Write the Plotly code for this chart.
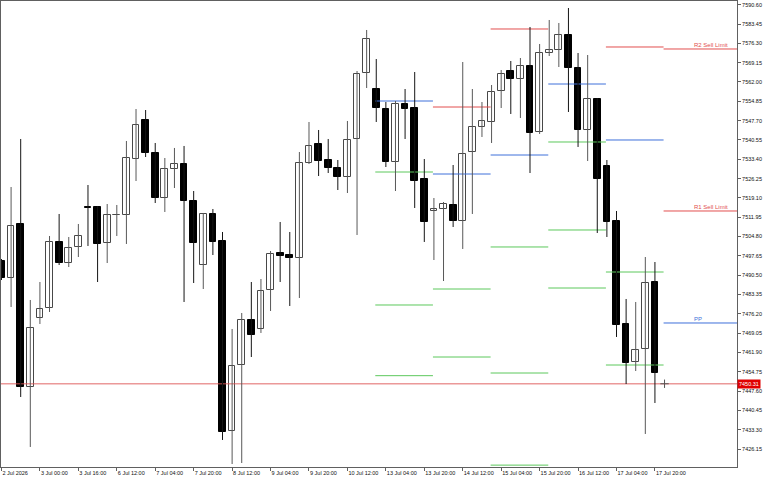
import plotly.graph_objects as go

# ---------------- data ----------------
candle_idx = list(range(69))
opens = [7495.74, 7489.45, 7509.44, 7449.11, 7474.65, 7478.35, 7502.78, 7495.00, 7500.93, 7515.73,
         7515.73, 7502.41, 7512.77, 7512.77, 7533.49, 7547.93, 7535.71, 7519.06, 7529.79, 7531.64,
         7517.95, 7494.26, 7513.14, 7503.15, 7432.83, 7457.25, 7473.91, 7470.58, 7485.01, 7498.70,
         7497.96, 7496.85, 7532.01, 7539.05, 7533.12, 7530.16, 7526.83, 7540.90, 7565.32, 7559.40,
         7552.00, 7532.38, 7553.85, 7552.37, 7526.09, 7514.25, 7514.99, 7516.47, 7510.55, 7536.08,
         7545.34, 7547.19, 7558.66, 7566.06, 7563.10, 7567.91, 7543.49, 7572.72, 7573.83, 7579.39,
         7567.17, 7544.23, 7555.70, 7530.90, 7510.55, 7472.43, 7458.36, 7463.18, 7487.97]
highs = [7496.48, 7523.13, 7540.90, 7481.31, 7487.97, 7505.00, 7513.14, 7504.63, 7509.44, 7523.87,
         7516.10, 7516.84, 7516.47, 7540.16, 7552.00, 7551.63, 7539.42, 7533.86, 7537.57, 7538.31,
         7521.65, 7513.51, 7514.99, 7506.48, 7470.58, 7476.50, 7487.97, 7489.08, 7499.44, 7510.18,
         7506.48, 7536.08, 7547.19, 7544.23, 7540.90, 7533.12, 7547.56, 7566.06, 7581.24, 7570.50,
         7554.59, 7554.96, 7559.40, 7565.69, 7533.49, 7519.06, 7517.58, 7531.27, 7569.39, 7559.40,
         7554.59, 7560.88, 7566.43, 7569.76, 7570.87, 7582.35, 7576.06, 7584.94, 7583.83, 7589.38,
         7572.72, 7571.98, 7556.07, 7533.12, 7514.25, 7481.68, 7480.57, 7497.22, 7495.37]
lows = [7488.71, 7478.72, 7445.41, 7426.91, 7472.43, 7476.87, 7494.26, 7493.52, 7497.22, 7501.30,
        7487.97, 7495.00, 7505.00, 7502.04, 7525.35, 7534.23, 7517.21, 7513.88, 7522.76, 7480.57,
        7487.60, 7485.38, 7497.96, 7429.50, 7420.61, 7420.98, 7460.21, 7469.10, 7477.24, 7487.97,
        7479.09, 7482.05, 7531.64, 7527.20, 7528.31, 7522.02, 7520.91, 7505.37, 7559.77, 7547.19,
        7530.53, 7521.65, 7540.90, 7515.36, 7502.78, 7496.11, 7488.34, 7508.33, 7500.19, 7513.14,
        7541.64, 7539.42, 7552.37, 7550.15, 7548.67, 7528.31, 7542.75, 7571.61, 7567.54, 7550.89,
        7537.94, 7532.75, 7506.11, 7504.63, 7467.62, 7450.22, 7455.03, 7431.72, 7443.19]
closes = [7489.45, 7508.70, 7449.11, 7470.95, 7477.98, 7502.78, 7495.00, 7500.56, 7505.00, 7515.36,
          7502.04, 7512.77, 7512.95, 7533.86, 7546.08, 7535.71, 7519.06, 7529.79, 7531.64, 7517.95,
          7502.41, 7513.14, 7502.78, 7432.46, 7456.88, 7473.91, 7468.36, 7484.64, 7498.33, 7497.59,
          7496.85, 7532.01, 7538.31, 7532.75, 7530.16, 7526.83, 7540.53, 7564.95, 7577.91, 7552.37,
          7532.38, 7553.85, 7552.00, 7525.35, 7510.18, 7514.99, 7516.84, 7510.55, 7535.34, 7545.34,
          7547.56, 7558.29, 7564.95, 7563.10, 7567.91, 7543.12, 7572.72, 7573.83, 7579.39, 7567.17,
          7544.23, 7555.70, 7526.09, 7510.18, 7472.06, 7457.99, 7462.80, 7487.60, 7454.29]

x_tick_idx = [0, 4, 8, 12, 16, 20, 24, 28, 32, 36, 40, 44, 48, 52, 56, 60, 64, 68]
x_tick_text = ["2 Jul 2026", "3 Jul 00:00", "3 Jul 16:00", "6 Jul 12:00", "7 Jul 04:00",
               "7 Jul 20:00", "8 Jul 12:00", "9 Jul 04:00", "9 Jul 20:00", "10 Jul 12:00",
               "13 Jul 04:00", "13 Jul 20:00", "14 Jul 12:00", "15 Jul 04:00", "15 Jul 20:00",
               "16 Jul 12:00", "17 Jul 04:00", "17 Jul 20:00"]
y_tick_vals = [7590.60, 7583.45, 7576.30, 7569.15, 7562.00, 7554.85, 7547.70, 7540.55,
               7533.40, 7526.25, 7519.10, 7511.95, 7504.80, 7497.65, 7490.50, 7483.35,
               7476.20, 7469.05, 7461.90, 7454.75, 7447.60, 7440.45, 7433.30, 7426.15]

current_price = 7450.31

# daily pivot segments (day boundaries in candle index units)
day_start = [38.9, 44.9, 50.9, 56.9, 62.9, 68.9]
day_end = [44.9, 50.9, 56.9, 62.9, 68.9, 76.54]

r_day = [1, 2, 4, 5, 5]
r_price = [7552.74, 7581.61, 7574.95, 7574.21, 7514.25]
pp_day = [0, 1, 2, 3, 4, 5]
pp_price = [7554.96, 7527.94, 7534.97, 7561.25, 7540.53, 7472.80]
s_day = [0, 0, 0, 1, 1, 2, 2, 2, 3, 3, 3, 4, 4]
s_price = [7528.68, 7479.46, 7453.30, 7485.38, 7460.21, 7500.93, 7454.29, 7420.2,
           7539.79, 7507.22, 7485.75, 7491.67, 7457.25]

level_labels = ["R2 Sell Limit", "R1 Sell Limit", "PP"]
level_label_prices = [7574.21, 7514.25, 7472.80]

# ---------------- figure ----------------
X_RANGE = [-0.05, 76.54]
Y_RANGE = [7419.50, 7591.97]
FONT = "Liberation Sans"
RED = "rgb(226,78,78)"
BLUE = "rgb(62,112,218)"
GREEN = "rgb(92,200,92)"

fig = go.Figure()

def seg_xy(days, prices):
    xs, ys = [], []
    for d, p in zip(days, prices):
        xs += [day_start[d], day_end[d], None]
        ys += [p, p, None]
    return xs, ys

# current price line
fig.add_trace(go.Scatter(x=X_RANGE, y=[current_price, current_price], mode="lines",
                         line=dict(color="rgba(222,85,85,0.6)", width=1.6),
                         hoverinfo="skip", showlegend=False))

# pivot segments
for days, prices, col in [(s_day, s_price, GREEN), (pp_day, pp_price, BLUE),
                          (r_day, r_price, RED)]:
    xs, ys = seg_xy(days, prices)
    fig.add_trace(go.Scatter(x=xs, y=ys, mode="lines", line=dict(color=col, width=1),
                             hoverinfo="skip", showlegend=False))

# wicks
bull = [i for i in candle_idx if closes[i] >= opens[i]]
bear = [i for i in candle_idx if closes[i] < opens[i]]
for group, col in [(bull, "#585858"), (bear, "#151515")]:
    xs, ys = [], []
    for i in group:
        xs += [i, i, None]
        ys += [lows[i], highs[i], None]
    fig.add_trace(go.Scatter(x=xs, y=ys, mode="lines", line=dict(color=col, width=1),
                             hoverinfo="skip", showlegend=False))

# bodies
for group, fill, edge in [(bull, "white", "#484848"), (bear, "black", "black")]:
    fig.add_trace(go.Bar(
        x=group,
        y=[abs(closes[i] - opens[i]) for i in group],
        base=[min(opens[i], closes[i]) for i in group],
        width=0.7,
        marker=dict(color=fill, line=dict(color=edge, width=1)),
        hoverinfo="skip", showlegend=False))

# small cross marker at the current price
fig.add_trace(go.Scatter(x=[69], y=[current_price], mode="markers",
                         marker=dict(symbol="cross-thin", size=6,
                                     line=dict(color="#555", width=1)),
                         hoverinfo="skip", showlegend=False))

# level labels
for txt, p in zip(level_labels, level_label_prices):
    col = BLUE if txt == "PP" else RED
    fig.add_annotation(x=71.85, y=p, xref="x", yref="y", text=txt, showarrow=False,
                       xanchor="left", yanchor="bottom", yshift=-1,
                       font=dict(family=FONT, size=6, color=col))

# current price box
fig.add_annotation(x=1, y=current_price, xref="paper", yref="y",
                   text=f"{current_price:.2f}", showarrow=False,
                   xanchor="left", yanchor="middle", bgcolor="#e00000",
                   borderpad=1, font=dict(family=FONT, size=5.5, color="white"))

fig.update_layout(
    width=768, height=480,
    margin=dict(l=1, r=31, t=1, b=13),
    paper_bgcolor="white", plot_bgcolor="white",
    barmode="overlay", bargap=0, showlegend=False,
    font=dict(family=FONT, size=5.5, color="#111"),
)
fig.update_xaxes(range=X_RANGE, showgrid=False, zeroline=False,
                 showline=True, linecolor="#606060", linewidth=1, mirror=True,
                 tickmode="array", tickvals=x_tick_idx, ticktext=x_tick_text,
                 ticks="outside", ticklen=3, tickcolor="#606060", tickwidth=1,
                 ticklabelposition="outside right", tickangle=0,
                 tickfont=dict(family=FONT, size=5.5, color="#111"))
fig.update_yaxes(range=Y_RANGE, side="right", showgrid=False, zeroline=False,
                 showline=True, linecolor="#606060", linewidth=1, mirror=True,
                 tickmode="array", tickvals=y_tick_vals,
                 ticktext=[f"{v:.2f}" for v in y_tick_vals],
                 ticks="outside", ticklen=3, tickcolor="#606060", tickwidth=1,
                 tickfont=dict(family=FONT, size=5.5, color="#111"))

fig.write_html("out.html")
